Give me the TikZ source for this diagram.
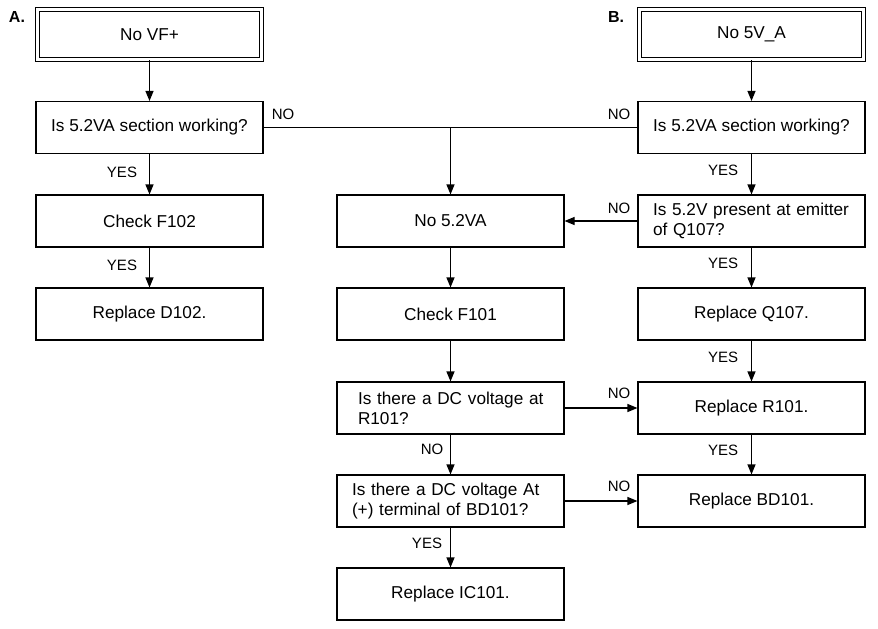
\documentclass[tikz,border=0pt]{standalone}
\usepackage{fontspec}
\setmainfont{Liberation Sans}
\usetikzlibrary{arrows.meta}
\begin{document}
\begin{tikzpicture}[x=1pt,y=-1pt,
  box/.style={draw, line width=1.1pt, minimum width=227pt, minimum height=52pt, inner sep=0pt,
    font=\fontsize{17.2}{20}\selectfont, align=center},
  dbox/.style={box, double, double distance=2.1pt, line width=1.2pt, minimum width=224pt, minimum height=50pt},
  qbox/.style={box, align=left},
  lbl/.style={font=\fontsize{15}{18}\selectfont, inner sep=0pt},
  tag/.style={font=\fontsize{16}{18}\selectfont\bfseries, inner sep=0pt},
  arr/.style={line width=1.1pt, -{Triangle[length=10pt,width=8pt]}},
  ln/.style={line width=1.1pt}]
\useasboundingbox (0,0) rectangle (878,629);

% column A
\node[dbox] (A1) at (149.5,34.5) {No VF+};
\node[box] (A2) at (149.5,127.5) {Is 5.2VA section working?};
\node[box] (A3) at (149.5,221) {Check F102};
\node[box] (A4) at (149.5,314) {Replace D102.};

% middle column
\node[box] (M3) at (450.5,221) {No 5.2VA};
\node[box] (M4) at (450.5,314) {Check F101};
\node[qbox, inner xsep=21pt, text width=185pt] (M5) at (450.5,408) {\mbox{Is there a DC voltage at}\\R101?};
\node[qbox, inner xsep=15pt, text width=197pt] (M6) at (450.5,501) {\mbox{Is there a DC voltage At}\\\mbox{(+) terminal of BD101?}};
\node[box] (M7) at (450.5,594) {Replace IC101.};

% column B
\node[dbox] (B1) at (751.5,34.5) {No 5V\_A};
\node[box] (B2) at (751.5,127.5) {Is 5.2VA section working?};
\node[qbox, inner xsep=15pt, text width=197pt] (B3) at (751.5,221) {\mbox{Is 5.2V present at emitter}\\of Q107?};
\node[box] (B4) at (751.5,314) {Replace Q107.};
\node[box] (B5) at (751.5,408) {Replace R101.};
\node[box] (B6) at (751.5,501) {Replace BD101.};

% tags
\node[tag] (tA) at (17,17) {A.};
\node[tag] (tB) at (616,17) {B.};

% connectors column A
\draw[arr] (A1) -- (A2);
\draw[arr] (A2) -- (A3);
\draw[arr] (A3) -- (A4);

% NO bus
\coordinate (J) at (M3.north |- A2.east);
\draw[ln] (A2.east) -- (B2.west);
\draw[arr] (J) -- (M3.north);

% middle column
\draw[arr] (M3) -- (M4);
\draw[arr] (M4) -- (M5);
\draw[arr] (M5) -- (M6);
\draw[arr] (M6) -- (M7);
\draw[arr] (M5.east) -- (B5.west);
\draw[arr] (M6.east) -- (B6.west);

% column B
\draw[arr] (B1) -- (B2);
\draw[arr] (B2) -- (B3);
\draw[arr] (B3.west) -- (M3.east);
\draw[arr] (B3) -- (B4);
\draw[arr] (B4) -- (B5);
\draw[arr] (B5) -- (B6);

% labels
\node[lbl] (l1) at (122,172) {YES};
\node[lbl] (l2) at (122,265) {YES};
\node[lbl] (l3) at (283,114) {NO};
\node[lbl] (l4) at (619,114) {NO};
\node[lbl] (l5) at (723,170) {YES};
\node[lbl] (l6) at (619,208) {NO};
\node[lbl] (l7) at (723,263) {YES};
\node[lbl] (l8) at (723,357) {YES};
\node[lbl] (l9) at (723,450) {YES};
\node[lbl] (l10) at (619,393) {NO};
\node[lbl] (l11) at (619,486) {NO};
\node[lbl] (l12) at (432,449) {NO};
\node[lbl] (l13) at (427,543) {YES};
\end{tikzpicture}
\end{document}
